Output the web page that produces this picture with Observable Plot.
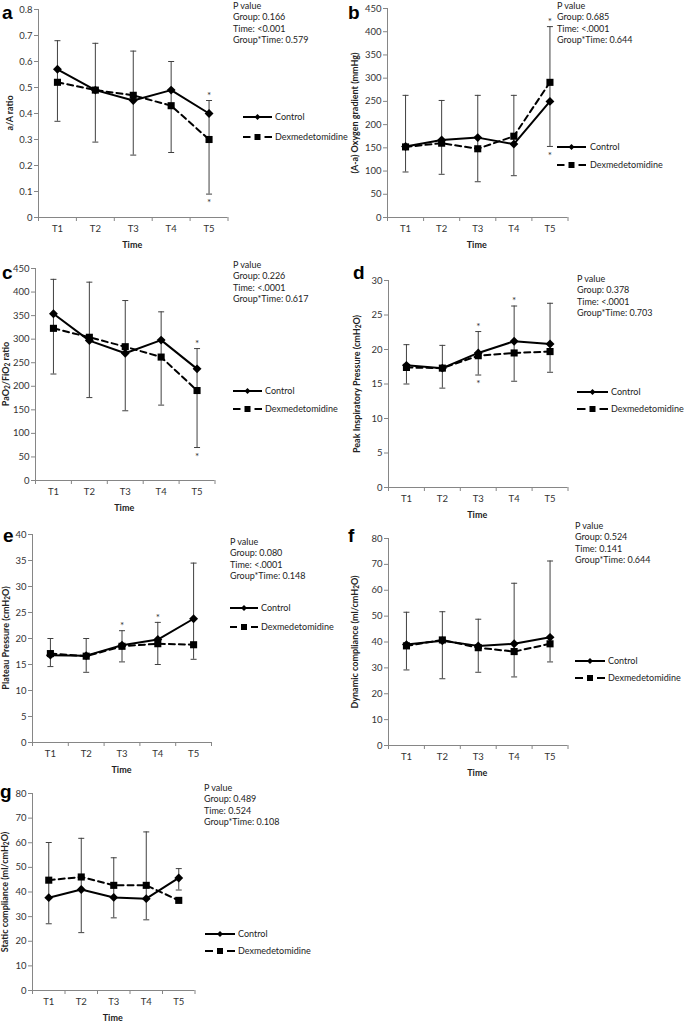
<!DOCTYPE html>
<html><head><meta charset="utf-8">
<script src="https://cdn.jsdelivr.net/npm/d3@7"></script>
<script src="https://cdn.jsdelivr.net/npm/@observablehq/plot@0.6"></script>
<style>
body{margin:0;background:#fff;}
#fig{position:relative;width:685px;height:1023px;background:#fff;overflow:hidden;font-family:Lato,"Open Sans",sans-serif;color:#222;}
.pl{position:absolute;}
#fig svg g[aria-label$="tick"]{stroke:#868686;}
.letter{position:absolute;font-family:"Liberation Sans",Arial,sans-serif;font-weight:bold;font-size:19px;line-height:19px;color:#000;}
.pv{position:absolute;font-size:9px;line-height:11.3px;white-space:nowrap;}
.lg{position:absolute;font-size:9px;line-height:10px;white-space:nowrap;}
.yl{position:absolute;font-size:9px;font-weight:bold;white-space:nowrap;transform:translate(-50%,-50%) rotate(-90deg);line-height:10px;}
.yl sub{font-size:6.5px;vertical-align:-1px;}
.tl{position:absolute;font-size:9px;font-weight:bold;transform:translate(-50%,-50%);}
</style></head><body><div id="fig"></div>
<script>
const times = ["T1","T2","T3","T4","T5"];
const seriesNames = ["Control","Dexmedetomidine"];

// a: a/A ratio
const aControl = [0.57,0.49,0.45,0.49,0.40];
const aDex     = [0.52,0.49,0.47,0.43,0.30];
const aLow     = [0.37,0.29,0.24,0.25,0.09];
const aHigh    = [0.68,0.67,0.64,0.60,0.45];
const aStarsAbove = ["T5"], aStarsBelow = ["T5"];
const aP = ["P value","Group: 0.166","Time: <0.001","Group*Time: 0.579"];

// b: (A-a) oxygen gradient
const bControl = [153,167,172,158,250];
const bDex     = [152,160,148,175,291];
const bLow     = [98,93,77,90,153];
const bHigh    = [263,252,263,263,411];
const bStarsAbove = ["T5"], bStarsBelow = ["T5"];
const bP = ["P value","Group: 0.685","Time: <.0001","Group*Time: 0.644"];

// c: PaO2/FiO2 ratio
const cControl = [354,297,270,298,237];
const cDex     = [323,304,284,262,191];
const cLow     = [226,176,148,160,70];
const cHigh    = [427,421,382,358,280];
const cStarsAbove = ["T5"], cStarsBelow = ["T5"];
const cP = ["P value","Group: 0.226","Time: <.0001","Group*Time: 0.617"];

// d: peak inspiratory pressure
const dControl = [17.7,17.3,19.5,21.2,20.8];
const dDex     = [17.4,17.3,19.1,19.5,19.7];
const dLow     = [15.0,14.4,16.3,15.4,16.7];
const dHigh    = [20.7,20.6,22.6,26.3,26.7];
const dStarsAbove = ["T3","T4"], dStarsBelow = ["T3"];
const dP = ["P value","Group: 0.378","Time: <.0001","Group*Time: 0.703"];

// e: plateau pressure
const eControl = [16.8,16.7,18.7,19.8,23.8];
const eDex     = [17.1,16.6,18.5,19.0,18.8];
const eLow     = [14.6,13.5,15.5,15.0,16.0];
const eHigh    = [20.0,20.0,21.5,23.1,34.5];
const eStarsAbove = ["T3","T4"], eStarsBelow = [];
const eP = ["P value","Group: 0.080","Time: <.0001","Group*Time: 0.148"];

// f: dynamic compliance
const fControl = [39.0,40.5,38.5,39.3,41.8];
const fDex     = [38.5,40.8,37.8,36.3,39.3];
const fLow     = [29.2,25.8,28.3,26.5,32.3];
const fHigh    = [51.5,51.7,48.8,62.7,71.3];
const fStarsAbove = [], fStarsBelow = [];
const fP = ["P value","Group: 0.524","Time: 0.141","Group*Time: 0.644"];

// g: static compliance
const gControl = [37.7,41.0,37.8,37.3,45.7];
const gDex     = [44.8,46.1,42.7,42.7,36.6];
const gLow     = [27.1,23.5,29.5,28.7,40.8];
const gHigh    = [60.1,61.8,53.9,64.4,49.5];
const gStarsAbove = [], gStarsBelow = [];
const gP = ["P value","Group: 0.489","Time: 0.524","Group*Time: 0.108"];

const panels = [
 {id:"a",control:aControl,dex:aDex,lo:aLow,hi:aHigh,above:aStarsAbove,below:aStarsBelow,pv:aP,yMax:0.8,yN:8,
  yLabel:"a/A ratio",x0:37.5,x1:227,yTop:9,yBot:217,ylx:10,letter:[2,3],pvPos:[233,0],lg:[243,272,275,117,137]},
 {id:"b",control:bControl,dex:bDex,lo:bLow,hi:bHigh,above:bStarsAbove,below:bStarsBelow,pv:bP,yMax:450,yN:9,
  yLabel:"(A-a) Oxygen gradient (mmHg)",x0:386.5,x1:567,yTop:8,yBot:217,ylx:355,letter:[348,3],pvPos:[557,0],lg:[557,586,590,147,165]},
 {id:"c",control:cControl,dex:cDex,lo:cLow,hi:cHigh,above:cStarsAbove,below:cStarsBelow,pv:cP,yMax:450,yN:9,
  yLabel:"PaO<sub>2</sub>/FiO<sub>2</sub> ratio",x0:34.5,x1:214,yTop:268,yBot:480,ylx:7,letter:[2,263],pvPos:[233,259],lg:[233,262,265,391,409]},
 {id:"d",control:dControl,dex:dDex,lo:dLow,hi:dHigh,above:dStarsAbove,below:dStarsBelow,pv:dP,yMax:30,yN:6,
  yLabel:"Peak Inspiratory Pressure (cmH<sub>2</sub>O)",x0:387.5,x1:567,yTop:280,yBot:487,ylx:358,letter:[353,263],pvPos:[577,273],lg:[577,608,611,392,409]},
 {id:"e",control:eControl,dex:eDex,lo:eLow,hi:eHigh,above:eStarsAbove,below:eStarsBelow,pv:eP,yMax:40,yN:8,
  yLabel:"Plateau Pressure (cmH<sub>2</sub>O)",x0:32,x1:211,yTop:534,yBot:742,ylx:7,letter:[3,526],pvPos:[230,536],lg:[230,258,261,608,627]},
 {id:"f",control:fControl,dex:fDex,lo:fLow,hi:fHigh,above:fStarsAbove,below:fStarsBelow,pv:fP,yMax:80,yN:8,
  yLabel:"Dynamic compliance (ml/cmH<sub>2</sub>O)",x0:387.5,x1:567,yTop:538,yBot:745,ylx:356,letter:[348,526],pvPos:[575,520],lg:[575,605,608,661,678]},
 {id:"g",control:gControl,dex:gDex,lo:gLow,hi:gHigh,above:gStarsAbove,below:gStarsBelow,pv:gP,yMax:80,yN:8,
  yLabel:"Static compliance (ml/cmH<sub>2</sub>O)",x0:31.5,x1:194,yTop:793,yBot:990,ylx:6,letter:[0,782],pvPos:[204,782],lg:[205,235,238,934,951]}
];

const fig = document.getElementById("fig");
const capSymbol = {draw(ctx, size){ const w = Math.sqrt(size/Math.PI); ctx.moveTo(-w,0); ctx.lineTo(w,0); }};

function addDiv(cls, html, left, top){
  const d = document.createElement("div");
  d.className = cls; d.innerHTML = html;
  d.style.left = left + "px"; d.style.top = top + "px";
  fig.appendChild(d); return d;
}

for (const p of panels) {
  const rows = times.map((t,i)=>({t:i+1,label:t,control:p.control[i],dex:p.dex[i],lo:p.lo[i],hi:p.hi[i]}));
  const caps = rows.flatMap(r=>[{t:r.t,v:r.lo},{t:r.t,v:r.hi}]);
  const starsA = p.above.map(l=>rows.find(r=>r.label===l));
  const starsB = p.below.map(l=>rows.find(r=>r.label===l));
  const mL=30, mT=8, mR=6, mB=24;
  const w = p.x1-p.x0, h = p.yBot-p.yTop;
  const svg = Plot.plot({
    width:w+mL+mR, height:h+mT+mB, marginLeft:mL, marginRight:mR, marginTop:mT, marginBottom:mB,
    x:{domain:[0.5,times.length+0.5]}, y:{domain:[0,p.yMax]},
    style:{fontFamily:"Lato, sans-serif",fontSize:"9.5px",color:"#333",background:"transparent",overflow:"visible"},
    marks:[
      Plot.axisY({ticks:d3.ticks(0,p.yMax,p.yN),tickSize:4,tickPadding:2,tickFormat:d=>String(+d.toFixed(3)),label:null}),
      Plot.axisX({ticks:d3.range(0.5,times.length+1,1),tickSize:4,tickFormat:()=>"",label:null}),
      Plot.axisX({ticks:rows.map(r=>r.t),tickSize:0,tickPadding:8,tickFormat:d=>times[d-1],label:null}),
      Plot.ruleX([0.5],{stroke:"#868686"}),
      Plot.ruleY([0],{stroke:"#868686"}),
      Plot.ruleX(rows,{x:"t",y1:"lo",y2:"hi",stroke:"#404040",strokeWidth:1}),
      Plot.dot(caps,{x:"t",y:"v",symbol:capSymbol,r:3,stroke:"#404040",strokeWidth:1,fill:"none"}),
      Plot.line(rows,{x:"t",y:"dex",stroke:"#000",strokeWidth:2,strokeDasharray:"6,4"}),
      Plot.line(rows,{x:"t",y:"control",stroke:"#000",strokeWidth:2}),
      Plot.dot(rows,{x:"t",y:"dex",symbol:"square",r:4,fill:"#000",stroke:"none"}),
      Plot.dot(rows,{x:"t",y:"control",symbol:"diamond2",r:4,fill:"#000",stroke:"none"}),
      Plot.text(starsA,{x:"t",y:"hi",text:()=>"*",dy:-5,fontSize:10,fill:"#333"}),
      Plot.text(starsB,{x:"t",y:"lo",text:()=>"*",dy:9,fontSize:10,fill:"#333"})
    ]
  });
  svg.classList.add("pl");
  svg.style.left = (p.x0-mL)+"px";
  svg.style.top = (p.yTop-mT)+"px";
  fig.appendChild(svg);

  addDiv("letter", p.id, p.letter[0], p.letter[1]);
  addDiv("yl", p.yLabel, p.ylx, (p.yTop+p.yBot)/2);
  addDiv("tl", "Time", (p.x0+p.x1)/2, p.yBot+27);
  addDiv("pv", p.pv.join("<br>"), p.pvPos[0], p.pvPos[1]);

  const [lx0,lx1,tx,yc,yd] = p.lg;
  const L = lx1-lx0, m = L/2;
  const ctl = `<svg width="${L}" height="10" style="position:absolute;left:${lx0}px;top:${yc-5}px;overflow:visible">
    <line x1="0" y1="5" x2="${L}" y2="5" stroke="#000" stroke-width="2"/>
    <path d="M${m},2 L${m+3},5 L${m},8 L${m-3},5Z" fill="#000"/></svg>`;
  const dex = `<svg width="${L}" height="10" style="position:absolute;left:${lx0}px;top:${yd-5}px;overflow:visible">
    <line x1="0" y1="5" x2="${m-7}" y2="5" stroke="#000" stroke-width="2"/>
    <line x1="${m+7}" y1="5" x2="${L}" y2="5" stroke="#000" stroke-width="2"/>
    <rect x="${m-3}" y="2" width="6" height="6" fill="#000"/></svg>`;
  fig.insertAdjacentHTML("beforeend", ctl + dex);
  addDiv("lg", seriesNames[0], tx, yc-5);
  addDiv("lg", seriesNames[1], tx, yd-5);
}
</script></body></html>
